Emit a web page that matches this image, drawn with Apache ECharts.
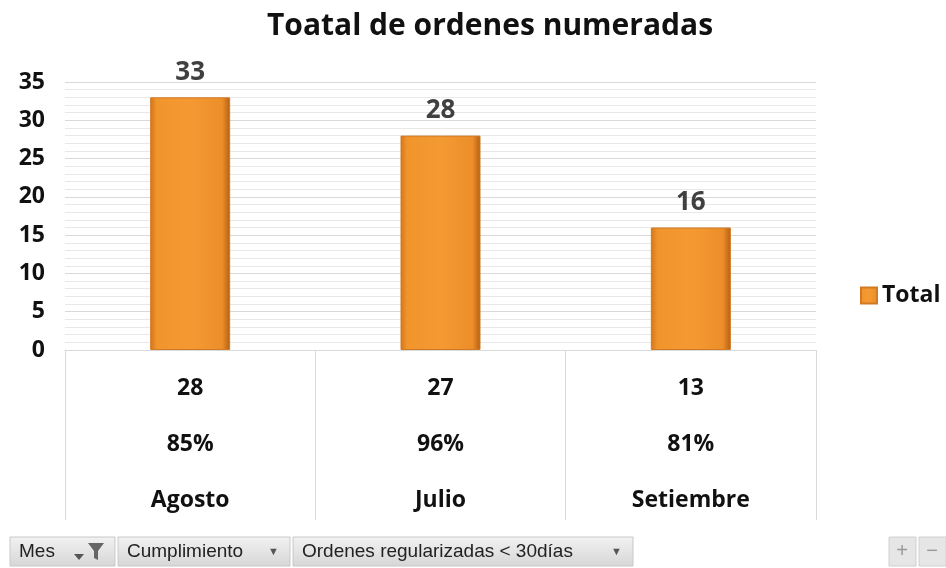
<!DOCTYPE html>
<html>
<head>
<meta charset="utf-8">
<script src="https://cdn.jsdelivr.net/npm/echarts@6/dist/echarts.min.js"></script>
<style>
  html, body { margin: 0; padding: 0; background: #fff; }
  #chart { width: 946px; height: 568px; }
</style>
</head>
<body>
<div id="chart"></div>
<script>
// datos del pivot
const meses = ['Agosto', 'Julio', 'Setiembre']
const total = [33, 28, 16]
const ordenesReg = [28, 27, 13]
const cumplimiento = [85, 96, 81]
const yTicks = [0, 5, 10, 15, 20, 25, 30, 35]

const font = '"Open Sans", "Noto Sans", sans-serif'
const narrow = '"Liberation Sans Narrow", "Liberation Sans", sans-serif'

const chart = echarts.init(document.getElementById('chart'))

// botones de campo del grafico dinamico
function fieldButton(x, w, label, withArrow) {
  const kids = [{
    type: 'rect',
    shape: { x: x, y: 537, width: w, height: 29 },
    style: {
      fill: new echarts.graphic.LinearGradient(0, 0, 0, 1, [
        { offset: 0, color: '#f2f2f2' },
        { offset: 1, color: '#d6d6d6' }
      ]),
      stroke: '#c8c8c8'
    }
  }, {
    type: 'text',
    style: { x: x + 9, y: 552, text: label, fill: '#222', font: '19px ' + narrow, verticalAlign: 'middle' }
  }]
  if (withArrow) {
    kids.push({
      type: 'text',
      style: { x: x + w - 22, y: 552, text: '▼', fill: '#555', font: '11px sans-serif', verticalAlign: 'middle' }
    })
  }
  return { type: 'group', children: kids }
}

chart.setOption({
  animation: false,
  title: {
    text: 'Toatal de ordenes numeradas',
    left: 485,
    top: 6,
    textAlign: 'center',
    textStyle: { fontFamily: font, fontSize: 30, fontWeight: 'bold', color: '#111' }
  },
  legend: {
    left: 855,
    top: 279,
    icon: 'rect',
    itemWidth: 16,
    itemHeight: 16,
    itemGap: 6,
    textStyle: { fontFamily: font, fontSize: 23, fontWeight: 'bold', color: '#111' }
  },
  grid: { left: 65, right: 130, top: 82, bottom: 218 },
  xAxis: {
    type: 'category',
    data: meses,
    axisLine: { lineStyle: { color: '#d9d9d9' } },
    axisTick: { show: true, length: 170, lineStyle: { color: '#d9d9d9' } },
    axisLabel: {
      margin: 10,
      lineHeight: 56,
      fontFamily: font,
      fontSize: 23,
      fontWeight: 'bold',
      color: '#111',
      formatter: function (v, i) {
        return ordenesReg[i] + '\n' + cumplimiento[i] + '%\n' + v
      }
    }
  },
  yAxis: {
    type: 'value',
    min: yTicks[0],
    max: yTicks[yTicks.length - 1],
    interval: 5,
    axisLine: { show: false },
    axisTick: { show: false },
    axisLabel: { margin: 20, fontFamily: font, fontSize: 23, fontWeight: 'bold', color: '#111' },
    splitLine: { lineStyle: { color: '#d9d9d9' } },
    minorTick: { show: false, splitNumber: 5 },
    minorSplitLine: { show: true, lineStyle: { color: '#e8e8e8' } }
  },
  series: [{
    name: 'Total',
    type: 'bar',
    data: total,
    barWidth: 80,
    itemStyle: {
      color: new echarts.graphic.LinearGradient(0, 0, 1, 0, [
        { offset: 0, color: '#d4741a' },
        { offset: 0.08, color: '#f0942c' },
        { offset: 0.5, color: '#f59a33' },
        { offset: 0.9, color: '#ec8e2a' },
        { offset: 1, color: '#b45e10' }
      ]),
      borderColor: '#d07a24',
      borderWidth: 1
    },
    label: {
      show: true,
      position: 'top',
      distance: 12,
      fontFamily: font,
      fontSize: 26,
      fontWeight: 'bold',
      color: '#404040'
    }
  }],
  graphic: [
    fieldButton(10, 105, 'Mes', false),
    {
      type: 'polygon',
      shape: { points: [[88, 543], [104, 543], [98, 551], [98, 560], [94, 558], [94, 551]] },
      style: { fill: '#666' }
    },
    {
      type: 'polygon',
      shape: { points: [[74, 554], [84, 554], [79, 560]] },
      style: { fill: '#555' }
    },
    fieldButton(118, 172, 'Cumplimiento', true),
    fieldButton(293, 340, 'Ordenes regularizadas < 30días', true),
    {
      type: 'group',
      children: [
        { type: 'rect', shape: { x: 889, y: 537, width: 27, height: 29 }, style: { fill: '#e6e6e6', stroke: '#d0d0d0' } },
        { type: 'text', style: { x: 902, y: 551, text: '+', fill: '#999', font: '20px sans-serif', align: 'center', verticalAlign: 'middle' } },
        { type: 'rect', shape: { x: 919, y: 537, width: 27, height: 29 }, style: { fill: '#e6e6e6', stroke: '#d0d0d0' } },
        { type: 'text', style: { x: 932, y: 551, text: '−', fill: '#999', font: '20px sans-serif', align: 'center', verticalAlign: 'middle' } }
      ]
    }
  ]
})
</script>
</body>
</html>
